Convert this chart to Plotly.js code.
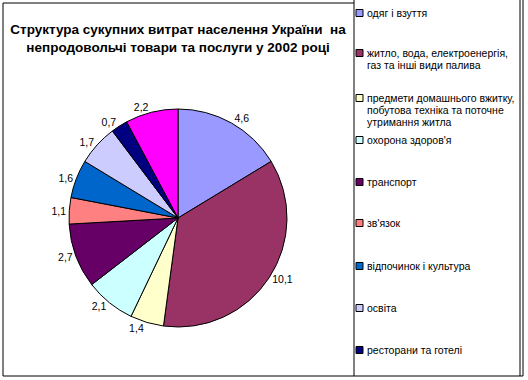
<!DOCTYPE html>
<html><head><meta charset="utf-8">
<script src="https://cdn.plot.ly/plotly-3.0.1.min.js"></script>
<style>html,body{margin:0;padding:0;background:#fff}#c{width:528px;height:380px}</style>
</head><body><div id="c"></div>
<script>
const categories = ["одяг і взуття","житло, вода, електроенергія, газ та інші види палива","предмети домашнього вжитку, побутова техніка та поточне утримання житла","охорона здоров'я","транспорт","зв'язок","відпочинок і культура","освіта","ресторани та готелі","інші"];
const values = [4.6, 10.1, 1.4, 2.1, 2.7, 1.1, 1.6, 1.7, 0.7, 2.2];
const colors = ["#9999FF","#993366","#FFFFCC","#CCFFFF","#660066","#FF8080","#0066CC","#CCCCFF","#000080","#FF00FF"];
const legendLines = [
  ["одяг і взуття"],
  ["житло, вода, електроенергія,","газ та інші види палива"],
  ["предмети домашнього вжитку,","побутова техніка та поточне","утримання житла"],
  ["охорона здоров'я"],
  ["транспорт"],
  ["зв'язок"],
  ["відпочинок і культура"],
  ["освіта"],
  ["ресторани та готелі"]
];
const legendY = [13, 53, 98, 140, 182, 223, 266, 308, 350];

const W=528,H=380;
const px=x=>x/W, py=y=>1-y/H;
const font = "Liberation Sans, Arial, sans-serif";

const shapes=[], annotations=[];
function line(x0,y0,x1,y1){shapes.push({type:'line',xref:'paper',yref:'paper',x0:px(x0),y0:py(y0),x1:px(x1),y1:py(y1),line:{color:'#000',width:1}});}
line(3,3,354,3); line(3,3,3,376); line(3,376,523,376);
line(354,0,354,376); line(520,0,520,376); line(523,0,523,376);

legendLines.forEach((ls,i)=>{
  const y=legendY[i];
  shapes.push({type:'rect',xref:'paper',yref:'paper',x0:px(356),x1:px(363),y0:py(y-3.5),y1:py(y+3.5),fillcolor:colors[i],line:{color:'#000',width:1}});
  ls.forEach((t,j)=>{
    annotations.push({xref:'paper',yref:'paper',x:px(365),y:py(y+j*12),xanchor:'left',yanchor:'middle',text:t,showarrow:false,font:{family:font,size:10.5,color:'#000'}});
  });
});

const data=[{type:'pie',values:values,labels:categories,text:values.map(v=>v.toFixed(1).replace('.',',')),
  textinfo:'text',textposition:'outside',sort:false,direction:'clockwise',rotation:0,
  marker:{colors:colors,line:{color:'#000',width:1}},
  textfont:{family:font,size:10.5,color:'#000'},outsidetextfont:{family:font,size:10.5,color:'#000'},
  domain:{x:[px(69),px(287)],y:[py(327),py(109)]},showlegend:false,hoverinfo:'none'}];

const layout={width:W,height:H,margin:{l:0,r:0,t:0,b:0},paper_bgcolor:'#fff',
  title:{text:"Структура сукупних витрат населення України  на<br>непродовольчі товари та послуги у 2002 році",
    x:px(178),xanchor:'center',y:py(34),yanchor:'middle',font:{family:font,size:13.5,color:'#000',weight:'bold'}},
  shapes:shapes,annotations:annotations,showlegend:false};
Plotly.newPlot('c',data,layout,{staticPlot:true});
</script></body></html>
